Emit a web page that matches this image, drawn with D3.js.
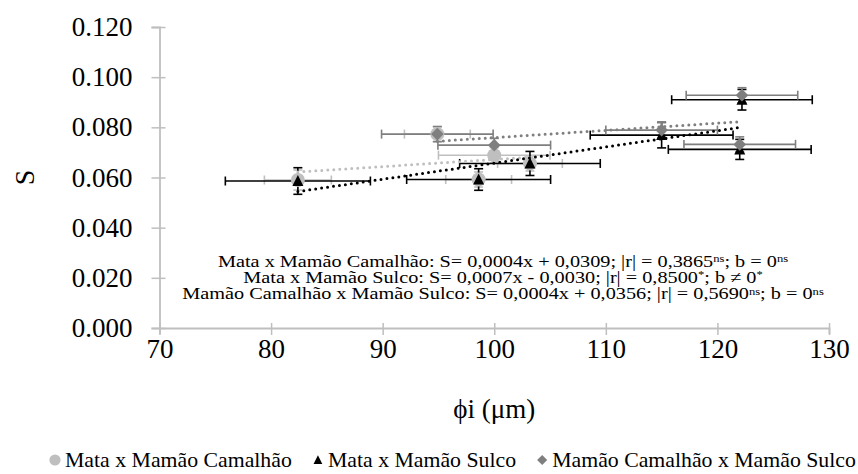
<!DOCTYPE html>
<html><head><meta charset="utf-8">
<script src="https://cdn.jsdelivr.net/npm/d3@7"></script>
<style>
body{margin:0;background:#fff}
svg{display:block}
</style>
</head><body>
<svg id="c" width="858" height="474"></svg>
<script>
// ---- data ----
const xTicks = [70, 80, 90, 100, 110, 120, 130];
const yTicks = [0, 0.02, 0.04, 0.06, 0.08, 0.10, 0.12];
const seriesNames = ["Mata x Mamão Camalhão", "Mata x Mamão Sulco", "Mamão Camalhão x Mamão Sulco"];

const s1X    = [82.4, 94.9, 98.6, 100.0, 103.2];
const s1Y    = [0.0590, 0.0773, 0.0592, 0.0689, 0.0656];
const s1XErr = [3.0, 2.95, 2.95, 5.0, 2.9];
const s1YErr = [0.004, 0.003, 0.003, 0.003, 0.003];

const s2X    = [82.4, 98.6, 103.2, 115.0, 122.0, 122.2];
const s2Y    = [0.0586, 0.0592, 0.0656, 0.0769, 0.0712, 0.0910];
const s2XErr = [6.5, 6.45, 6.3, 6.4, 6.4, 6.3];
const s2YErr = [0.0053, 0.0043, 0.0048, 0.0051, 0.0040, 0.0041];

const s3X    = [94.9, 100.0, 115.0, 122.0, 122.2];
const s3Y    = [0.0773, 0.0729, 0.0789, 0.0732, 0.0928];
const s3XErr = [5.0, 5.05, 5.0, 5.0, 5.0];
const s3YErr = [0.003, 0.0027, 0.003, 0.003, 0.003];

const eqLines = [
  [["Mata x Mamão Camalhão: S= 0,0004x + 0,0309; |r| = 0,3865", 0], ["ns", 1], ["; b = 0", 0], ["ns", 1]],
  [["Mata x Mamão Sulco: S= 0,0007x - 0,0030; |r| = 0,8500", 0], ["*", 1], ["; b ≠ 0", 0], ["*", 1]],
  [["Mamão Camalhão x Mamão Sulco: S= 0,0004x + 0,0356; |r| = 0,5690", 0], ["ns", 1], ["; b = 0", 0], ["ns", 1]]
];
const xTitle = "ϕi (μm)";
const yTitle = "S";

// ---- layout ----
const FONT = "Liberation Serif, Times New Roman, Tinos, DejaVu Serif, serif";
const svg = d3.select("#c");
const x = d3.scaleLinear().domain([70, 130]).range([159.5, 829]);
const y = d3.scaleLinear().domain([0, 0.12]).range([328, 27]);
const axisColor = "#BFBFBF";

const series = [
  {X: s1X, Y: s1Y, XE: s1XErr, YE: s1YErr, color: "#BFBFBF", bar: "#BFBFBF", shape: "circle"},
  {X: s2X, Y: s2Y, XE: s2XErr, YE: s2YErr, color: "#000000", bar: "#000000", shape: "triangle"},
  {X: s3X, Y: s3Y, XE: s3XErr, YE: s3YErr, color: "#7F7F7F", bar: "#7F7F7F", shape: "diamond"}
];

// axes
const yAxis = d3.axisLeft(y).tickValues(yTicks).tickFormat(d3.format(".3f")).tickSize(8).tickPadding(19);
const gy = svg.append("g").attr("transform", `translate(${x(70)},0)`).call(yAxis);
const xAxis = d3.axisBottom(x).tickValues(xTicks).tickFormat(d3.format("d")).tickSize(6).tickPadding(8);
const gx = svg.append("g").attr("transform", `translate(0,${y(0)})`).call(xAxis);
[gy, gx].forEach(g => {
  g.attr("font-family", FONT);
  g.select(".domain").attr("stroke", axisColor).attr("stroke-width", 1.8);
  g.selectAll(".tick line").attr("stroke", axisColor).attr("stroke-width", 1.5);
  g.selectAll(".tick text").attr("font-family", FONT).attr("font-size", 27).attr("fill", "#000");
});
gy.selectAll(".tick line").attr("x1", -8).attr("x2", 6);
gx.selectAll(".tick line").attr("y1", -5).attr("y2", 7);
gx.selectAll(".tick text").attr("dy", null).attr("y", 30);

// titles
svg.append("text").attr("transform", `translate(34,${y(0.06)}) rotate(-90)`).attr("text-anchor", "middle")
  .attr("font-family", FONT).attr("font-size", 28).text(yTitle);
svg.append("text").attr("x", (x(70) + x(130)) / 2).attr("y", 418).attr("text-anchor", "middle")
  .attr("font-family", FONT).attr("font-size", 27).text(xTitle);

// equations: one text block of three centred lines, stretched to the reference width
const eqY = [0, 16.5, 33];
const eqFs = 16.5;
const eqT = svg.append("text").attr("text-anchor", "middle").attr("font-family", FONT).attr("font-size", eqFs);
eqLines.forEach((ln, i) => {
  ln.forEach((seg, k) => {
    const sp = eqT.append("tspan").text(seg[0]);
    if (k === 0) sp.attr("x", 0).attr("y", eqY[i]);
    else if (seg[1]) sp.attr("dy", -4.5).attr("font-size", "0.62em");
    else sp.attr("dy", 4.5);
  });
});
// width of the longest line (last one)
const tmp = svg.append("text").attr("font-family", FONT).attr("font-size", eqFs);
eqLines[2].forEach(seg => { const sp = tmp.append("tspan").text(seg[0]); if (seg[1]) sp.attr("font-size", "0.62em"); });
const w3 = tmp.node().getComputedTextLength();
tmp.remove();
eqT.attr("transform", `translate(503,266.5) scale(${642 / w3},1)`);

// error bars
const cap = 4.5;
series.forEach(s => {
  const g = svg.append("g").attr("stroke", s.bar).attr("stroke-width", 1.6);
  s.X.forEach((xv, i) => {
    const yv = s.Y[i], xe = s.XE[i], ye = s.YE[i];
    g.append("line").attr("x1", x(xv - xe)).attr("x2", x(xv + xe)).attr("y1", y(yv)).attr("y2", y(yv));
    g.append("line").attr("x1", x(xv - xe)).attr("x2", x(xv - xe)).attr("y1", y(yv) - cap).attr("y2", y(yv) + cap);
    g.append("line").attr("x1", x(xv + xe)).attr("x2", x(xv + xe)).attr("y1", y(yv) - cap).attr("y2", y(yv) + cap);
    g.append("line").attr("x1", x(xv)).attr("x2", x(xv)).attr("y1", y(yv - ye)).attr("y2", y(yv + ye));
    g.append("line").attr("x1", x(xv) - cap).attr("x2", x(xv) + cap).attr("y1", y(yv - ye)).attr("y2", y(yv - ye));
    g.append("line").attr("x1", x(xv) - cap).attr("x2", x(xv) + cap).attr("y1", y(yv + ye)).attr("y2", y(yv + ye));
  });
});

// markers
function marker(g, shape, cx, cy, sc, color) {
  if (shape === "circle") g.append("circle").attr("cx", cx).attr("cy", cy).attr("r", 7 * sc).attr("fill", color);
  else if (shape === "triangle") g.append("path").attr("d", `M${cx},${cy - 6 * sc}L${cx + 5.5 * sc},${cy + 5 * sc}L${cx - 5.5 * sc},${cy + 5 * sc}Z`).attr("fill", color);
  else g.append("path").attr("d", `M${cx},${cy - 6.3 * sc}L${cx + 6.3 * sc},${cy}L${cx},${cy + 6.3 * sc}L${cx - 6.3 * sc},${cy}Z`).attr("fill", color);
}
series.forEach(s => {
  const g = svg.append("g");
  s.X.forEach((xv, i) => marker(g, s.shape, x(xv), y(s.Y[i]), 1, s.color));
});

// trend lines (least squares, as the spreadsheet does)
series.forEach(s => {
  const mx = d3.mean(s.X), my = d3.mean(s.Y);
  const b = d3.sum(s.X.map((v, i) => (v - mx) * (s.Y[i] - my))) / d3.sum(s.X.map(v => (v - mx) ** 2));
  const a = my - b * mx;
  const [lo, hi] = d3.extent(s.X);
  svg.append("line").attr("x1", x(lo)).attr("x2", x(hi)).attr("y1", y(a + b * lo)).attr("y2", y(a + b * hi))
    .attr("stroke", s.color).attr("stroke-width", 3).attr("stroke-linecap", "round").attr("stroke-dasharray", "0 6");
});

// legend (fitted between the reference's left and right ends)
const legLeft = 55, legRight = 856, legBase = 467;
const lg = svg.append("g");
const texts = seriesNames.map(nm => lg.append("text").attr("font-family", FONT).attr("font-size", 20).text(nm));
const tw = texts.map(t => t.node().getComputedTextLength());
const markGap = 10, itemGap = 26;
const fs = 20 * (legRight - legLeft - 3 * markGap - 2 * itemGap) / d3.sum(tw);
let lx = legLeft;
texts.forEach((t, i) => {
  marker(lg, series[i].shape, lx, legBase - 7, 0.8, series[i].color);
  t.attr("font-size", fs).attr("x", lx + markGap).attr("y", legBase);
  lx += markGap + tw[i] * fs / 20 + itemGap;
});
</script>
</body></html>
